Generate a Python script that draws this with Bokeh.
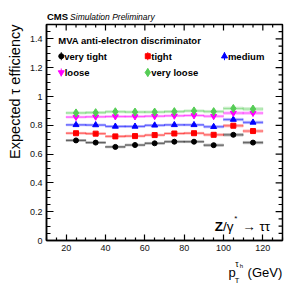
import math
from bokeh.plotting import figure
from bokeh.layouts import column
from bokeh.models import Label, Title, FixedTicker, ColumnDataSource, Range1d
from bokeh.embed import file_html
from bokeh.resources import INLINE

# ---------------- data ----------------
bin_lo = [20, 30, 40, 50, 60, 70, 80, 90, 100, 110]
bin_hi = [30, 40, 50, 60, 70, 80, 90, 100, 110, 120]
bin_center = [25, 35, 45, 55, 65, 75, 85, 95, 105, 115]

eff_very_tight = [0.695, 0.680, 0.650, 0.663, 0.675, 0.686, 0.686, 0.662, 0.734, 0.680]
eff_tight      = [0.745, 0.742, 0.723, 0.725, 0.732, 0.743, 0.745, 0.734, 0.797, 0.760]
eff_medium     = [0.803, 0.802, 0.792, 0.792, 0.800, 0.803, 0.803, 0.790, 0.840, 0.820]
eff_loose      = [0.857, 0.859, 0.861, 0.861, 0.863, 0.866, 0.868, 0.863, 0.885, 0.885]
eff_very_loose = [0.886, 0.888, 0.894, 0.892, 0.892, 0.895, 0.900, 0.895, 0.917, 0.913]

err_very_tight = [0.006, 0.006, 0.006, 0.006, 0.006, 0.006, 0.006, 0.007, 0.008, 0.008]
err_tight      = [0.006, 0.006, 0.006, 0.006, 0.006, 0.006, 0.006, 0.007, 0.008, 0.008]
err_medium     = [0.006, 0.006, 0.006, 0.006, 0.006, 0.006, 0.006, 0.007, 0.008, 0.008]
err_loose      = [0.006, 0.006, 0.006, 0.006, 0.006, 0.006, 0.006, 0.007, 0.008, 0.008]
err_very_loose = [0.007, 0.007, 0.007, 0.007, 0.007, 0.007, 0.007, 0.008, 0.009, 0.009]

series_names = ["very tight", "tight", "medium", "loose", "very loose"]

xticks = [20, 40, 60, 80, 100, 120]
xtick_labels = ["20", "40", "60", "80", "100", "120"]
xminor = [10, 15, 25, 30, 35, 45, 50, 55, 65, 70, 75, 85, 90, 95, 105, 110, 115, 125, 130]
yticks = [0.0, 0.2, 0.4, 0.6, 0.8, 1.0, 1.2, 1.4]
ytick_labels = ["0", "0.2", "0.4", "0.6", "0.8", "1", "1.2", "1.4"]
yminor = [0.05, 0.1, 0.15, 0.25, 0.3, 0.35, 0.45, 0.5, 0.55, 0.65, 0.7, 0.75,
          0.85, 0.9, 0.95, 1.05, 1.1, 1.15, 1.25, 1.3, 1.35, 1.45, 1.5]

# ---------------- styles / layout ----------------
effs = [eff_very_tight, eff_tight, eff_medium, eff_loose, eff_very_loose]
errs = [err_very_tight, err_tight, err_medium, err_loose, err_very_loose]
colors = ["#000000", "#ff0000", "#0000ff", "#ff00ff", "#55cc55"]
markers = ["circle", "square", "triangle", "inverted_triangle", "diamond"]
msizes = [5, 5, 6, 6, 8]
FONT = "Liberation Sans"

W = 297
TOP_H = 22
ML, MR, MT, MB = 42, 15, 2, 17
FRAME_W, FRAME_H = 240, 216
MAIN_H = MT + FRAME_H + MB
BOT_H = 285 - TOP_H - MAIN_H
X0, X1, Y0, Y1 = 10, 130, 0, 1.5
FL = ML                       # frame left (page px)
FR = ML + FRAME_W             # frame right (page px)
FB = TOP_H + MT + FRAME_H     # frame bottom (page px)
SX = FRAME_W / (X1 - X0)
SY = FRAME_H / (Y1 - Y0)

def X(px):
    return X0 + (px - FL) / SX

def Y(py):
    return Y0 + (FB - py) / SY

# ---------------- top strip (CMS header) ----------------
# (the column aligns this strip's frame with the main frame: 42..282 px)
top = figure(width=W, height=TOP_H, x_range=Range1d(FL, FR), y_range=Range1d(TOP_H, 0),
             output_backend="svg", toolbar_location=None, min_border=0,
             min_border_left=ML, min_border_right=MR,
             x_axis_type=None, y_axis_type=None)
top.outline_line_color = None
top.grid.visible = False
top.add_layout(Label(x=42.5, y=15.8, text="CMS", text_font=FONT, text_font_size="9.5px",
                     text_font_style="bold", text_color="black", text_baseline="middle"))
top.add_layout(Label(x=66, y=16.0, text="Simulation Preliminary", text_font=FONT,
                     text_font_size="8.5px", text_font_style="italic", text_color="black",
                     text_baseline="middle"))

# ---------------- main plot ----------------
p = figure(width=W, height=MAIN_H, x_range=Range1d(X0, X1), y_range=Range1d(Y0, Y1),
           output_backend="svg", toolbar_location=None,
           min_border_left=ML, min_border_right=MR, min_border_top=MT, min_border_bottom=MB)
p.xgrid.visible = False
p.ygrid.visible = False
p.outline_line_color = "black"
p.outline_line_width = 1.5
p.background_fill_color = "white"
p.border_fill_color = "white"

def style_axis(ax, ticks, minor, labels, major_len, minor_len):
    ax.ticker = FixedTicker(ticks=ticks, minor_ticks=minor)
    ax.axis_line_width = 1.5
    ax.axis_line_color = "black"
    ax.major_tick_in = major_len
    ax.major_tick_out = 0
    ax.minor_tick_in = minor_len
    ax.minor_tick_out = 0
    ax.major_tick_line_width = 1.2
    ax.minor_tick_line_width = 1.2
    ax.major_tick_line_color = "black"
    ax.minor_tick_line_color = "black"
    ax.major_label_overrides = {t: l for t, l in zip(ticks, labels)}
    ax.major_label_text_font = FONT
    ax.major_label_text_font_size = "9px"
    ax.major_label_text_color = "#111111"
    ax.major_label_standoff = 4

style_axis(p.xaxis[0], xticks, xminor, xtick_labels, 6, 3)
style_axis(p.yaxis[0], yticks, yminor, ytick_labels, 7, 4)

# ticks on the top and right frame edges (ROOT style), from the tick lists
tick_src_top = ColumnDataSource(dict(x=xticks, y1=[Y1 - 6 / SY] * len(xticks)))
tick_src_top_m = ColumnDataSource(dict(x=xminor, y1=[Y1 - 3 / SY] * len(xminor)))
p.segment(x0="x", x1="x", y0=Y1, y1="y1", source=tick_src_top, line_color="black", line_width=1.2)
p.segment(x0="x", x1="x", y0=Y1, y1="y1", source=tick_src_top_m, line_color="black", line_width=1.2)
tick_src_r = ColumnDataSource(dict(y=yticks, x1=[X1 - 7 / SX] * len(yticks)))
tick_src_r_m = ColumnDataSource(dict(y=yminor, x1=[X1 - 4 / SX] * len(yminor)))
p.segment(x0=X1, x1="x1", y0="y", y1="y", source=tick_src_r, line_color="black", line_width=1.2)
p.segment(x0=X1, x1="x1", y0="y", y1="y", source=tick_src_r_m, line_color="black", line_width=1.2)

# y-axis title, right-aligned at the top (ROOT style)
p.add_layout(Title(text="Expected \u03c4 efficiency", align="right", text_font=FONT,
                   text_font_size="14.5px", text_font_style="normal", text_color="black",
                   standoff=8), "left")

# ---------------- data glyphs ----------------
for name, eff, err, col, mk, ms in zip(series_names, effs, errs, colors, markers, msizes):
    src = ColumnDataSource(dict(
        lo=bin_lo, hi=bin_hi, x=bin_center, y=eff,
        ylo=[v - e for v, e in zip(eff, err)],
        yhi=[v + e for v, e in zip(eff, err)],
    ))
    p.quad(left="lo", right="hi", bottom="ylo", top="yhi", source=src,
           fill_color=col, fill_alpha=0.18, line_color=col, line_alpha=0.25, line_width=1)
    p.segment(x0="lo", x1="hi", y0="y", y1="y", source=src,
              line_color=col, line_alpha=0.55, line_width=1)
    p.segment(x0="x", x1="x", y0="ylo", y1="yhi", source=src,
              line_color=col, line_width=1)
    p.scatter(x="x", y="y", source=src, marker=mk, size=ms,
              fill_color=col, line_color=col)

# ---------------- legend (manual, ROOT-like) ----------------
leg_marker_px = [(57, 55.7), (145, 55.7), (223, 55.7), (57, 72), (145, 72)]
leg_text_px = [(60, 56), (148.5, 56), (226.5, 56), (60.5, 72.3), (148.5, 72.3)]
for (mx, my), (tx, ty), name, col, mk, ms in zip(leg_marker_px, leg_text_px,
                                                  series_names, colors, markers, msizes):
    p.segment(x0=[X(mx)], x1=[X(mx)], y0=[Y(my + 4)], y1=[Y(my - 4)],
              line_color=col, line_width=1)
    p.scatter(x=[X(mx)], y=[Y(my)], marker=mk, size=ms, fill_color=col, line_color=col)
    p.add_layout(Label(x=X(tx), y=Y(ty), text=name, text_font=FONT,
                       text_font_size="9.5px", text_font_style="bold",
                       text_color="black", text_baseline="middle"))

p.add_layout(Label(x=X(54), y=Y(39.5), text="MVA anti-electron discriminator",
                   text_font=FONT, text_font_size="9.5px", text_font_style="bold",
                   text_color="black", text_baseline="middle"))

# ---------------- process label ----------------
p.add_layout(Label(x=X(213), y=Y(226), text="Z", text_font=FONT,
                   text_font_size="13.5px", text_font_style="bold", text_color="black",
                   text_baseline="alphabetic"))
p.add_layout(Label(x=X(221.5), y=Y(226), text="/\u03b3", text_font=FONT,
                   text_font_size="13.5px", text_color="black", text_baseline="alphabetic"))
p.add_layout(Label(x=X(233), y=Y(218), text="*", text_font=FONT,
                   text_font_size="8px", text_color="black", text_baseline="alphabetic"))
p.add_layout(Label(x=X(241), y=Y(226), text="\u2192  \u03c4\u03c4", text_font=FONT,
                   text_font_size="13.5px", text_color="black", text_baseline="alphabetic"))

# ---------------- bottom strip (x-axis title) ----------------
BOT_Y0 = TOP_H + MAIN_H
bot = figure(width=W, height=BOT_H, x_range=Range1d(FL, FR), y_range=Range1d(BOT_H, 0),
             output_backend="svg", toolbar_location=None, min_border=0,
             min_border_left=ML, min_border_right=MR,
             x_axis_type=None, y_axis_type=None)
bot.outline_line_color = None
bot.grid.visible = False

def B(py):
    return py - BOT_Y0

bot.add_layout(Label(x=227, y=B(271.5), text="p", text_font=FONT, text_font_size="13px",
                     text_color="black", text_baseline="alphabetic"))
bot.add_layout(Label(x=233.5, y=B(279.5), text="T", text_font=FONT, text_font_size="7.5px",
                     text_color="black", text_baseline="alphabetic"))
bot.add_layout(Label(x=234, y=B(263), text="\u03c4", text_font=FONT, text_font_size="8.5px",
                     text_color="black", text_baseline="alphabetic"))
bot.add_layout(Label(x=238.5, y=B(265.5), text="h", text_font=FONT, text_font_size="6px",
                     text_color="black", text_baseline="alphabetic"))
bot.add_layout(Label(x=246.5, y=B(271.5), text="(GeV)", text_font=FONT, text_font_size="13px",
                     text_color="black", text_baseline="alphabetic"))

layout = column(top, p, bot, spacing=0)
open("out.html", "w").write(file_html(layout, INLINE))
